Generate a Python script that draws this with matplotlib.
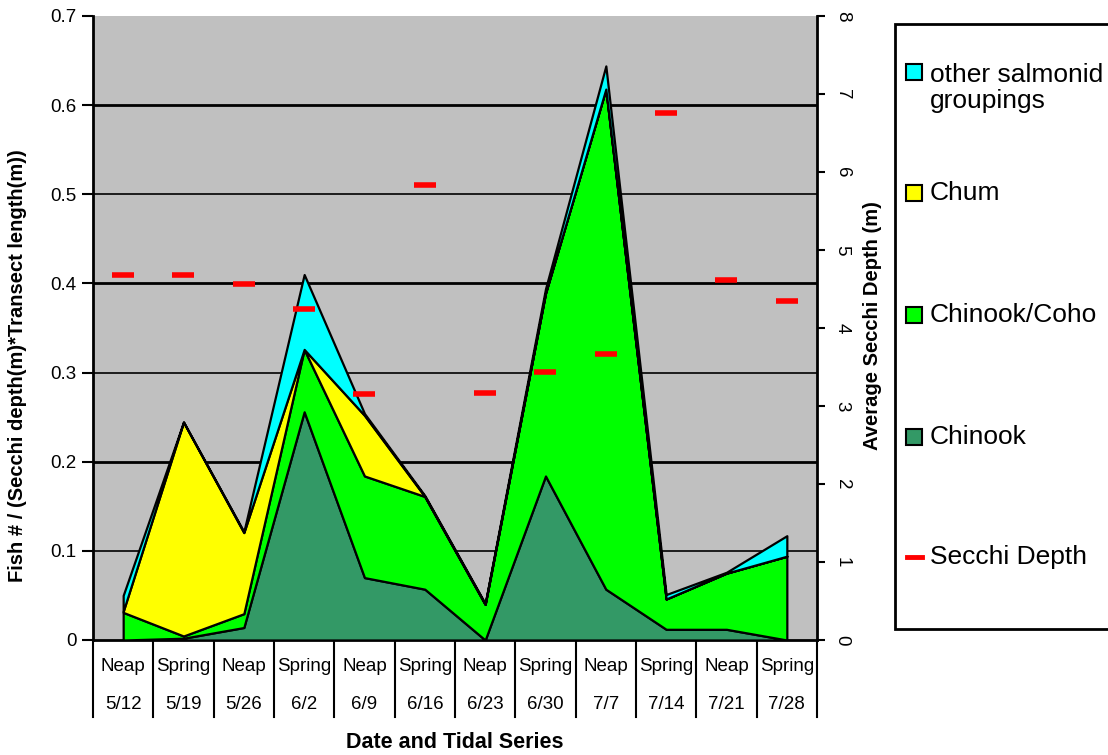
import numpy as np
import matplotlib.pyplot as plt
from matplotlib.patches import Rectangle
from matplotlib.lines import Line2D
from matplotlib.transforms import blended_transform_factory

plt.rcParams['font.family'] = ['Liberation Sans', 'DejaVu Sans']

# sampling series and dates
tides = ['Neap', 'Spring', 'Neap', 'Spring', 'Neap', 'Spring',
         'Neap', 'Spring', 'Neap', 'Spring', 'Neap', 'Spring']
dates = ['5/12', '5/19', '5/26', '6/2', '6/9', '6/16',
         '6/23', '6/30', '7/7', '7/14', '7/21', '7/28']

# fish density per group (stacked)
chinook = [0.0, 0.002, 0.014, 0.256, 0.070, 0.057, 0.0, 0.184, 0.057, 0.012, 0.012, 0.0]
chinook_coho = [0.031, 0.0025, 0.0155, 0.070, 0.114, 0.104, 0.040, 0.205, 0.561, 0.034, 0.063, 0.094]
chum = [0.001, 0.240, 0.091, 0.0, 0.068, 0.0, 0.0, 0.0, 0.0, 0.0, 0.0, 0.0]
other_salmonid = [0.018, 0.0, 0.001, 0.084, 0.002, 0.001, 0.001, 0.005, 0.026, 0.005, 0.001, 0.023]

# average secchi depth (m), right axis
secchi_depth = [4.68, 4.68, 4.56, 4.25, 3.15, 5.83, 3.17, 3.43, 3.67, 6.76, 4.61, 4.35]

left_ticks = [0, 0.1, 0.2, 0.3, 0.4, 0.5, 0.6, 0.7]
left_labels = ['0', '0.1', '0.2', '0.3', '0.4', '0.5', '0.6', '0.7']
right_ticks = [0, 1, 2, 3, 4, 5, 6, 7, 8]

W, H = 1108, 755
fig = plt.figure(figsize=(W / 100, H / 100), dpi=100)


def fx(x):
    return x / W


def fy(y):
    return 1 - y / H


ax = fig.add_axes([fx(93), fy(640), 724 / W, 624 / H])
ax.set_facecolor('#c0c0c0')

x = np.arange(len(dates))
ax.stackplot(x, chinook, chinook_coho, chum, other_salmonid,
             colors=['#339966', '#00ff00', '#ffff00', '#00ffff'],
             edgecolor='black', linewidth=1.6, zorder=3)

# horizontal gridlines, heavier every other one
for i, yv in enumerate(left_ticks[1:-1]):
    ax.axhline(yv, color='black', lw=2.0 if i % 2 else 1.2, zorder=1)

ax.set_xlim(-0.5, len(dates) - 0.5)
ax.set_ylim(0, 0.7)
ax.set_yticks(left_ticks)
ax.set_yticklabels(left_labels, fontsize=13.5)
ax.tick_params(axis='y', direction='out', length=8, width=1.5, pad=4)
ax.set_xticks([])
for side in ['left', 'bottom']:
    ax.spines[side].set_linewidth(2)
ax.spines['top'].set_visible(False)
ax.spines['right'].set_visible(False)

# two-level category labels below the axis
trans = blended_transform_factory(ax.transData, ax.transAxes)
for k in range(len(dates) + 1):
    ax.add_line(Line2D([k - 0.5, k - 0.5], [0, -0.123], transform=trans,
                       color='black', lw=1.5, clip_on=False))
for k in range(len(dates)):
    ax.text(k, -0.043, tides[k], transform=trans, ha='center', va='center', fontsize=13.5)
    ax.text(k, -0.104, dates[k], transform=trans, ha='center', va='center', fontsize=13.5)

# secchi depth on the secondary axis
ax2 = ax.twinx()
ax2.plot(x, secchi_depth, ls='none', marker='_', ms=16, mew=4, color='red', zorder=5)
ax2.set_ylim(0, 8)
ax2.set_yticks(right_ticks)
ax2.set_yticklabels([str(t) for t in right_ticks], rotation=-90, va='center', fontsize=13.5)
ax2.tick_params(axis='y', direction='out', length=6, width=1.5, pad=6)
ax2.spines['right'].set_linewidth(2)
ax2.spines['top'].set_visible(False)
ax2.spines['left'].set_visible(False)
ax2.spines['bottom'].set_visible(False)

fig.text(fx(18), fy(366), 'Fish # / (Secchi depth(m)*Transect length(m))',
         rotation=90, ha='center', va='center', fontsize=14.5, fontweight='bold')
fig.text(fx(872), fy(326), 'Average Secchi Depth (m)',
         rotation=90, ha='center', va='center', fontsize=14.5, fontweight='bold')
fig.text(fx(455), fy(742), 'Date and Tidal Series',
         ha='center', va='center', fontsize=15.5, fontweight='bold')

# legend box
fig.patches.append(Rectangle((fx(895), fy(629)), fx(1120) - fx(895), fy(24) - fy(629),
                             transform=fig.transFigure, facecolor='white',
                             edgecolor='black', lw=2, zorder=0))
legend_items = [
    ('#00ffff', 'other salmonid\ngroupings', 72, 88),
    ('#ffff00', 'Chum', 193, 193),
    ('#00ff00', 'Chinook/Coho', 315, 315),
    ('#339966', 'Chinook', 437, 437),
]
for color, label, ybox, ytext in legend_items:
    fig.patches.append(Rectangle((fx(906), fy(ybox + 8)), 16 / W, 16 / H,
                                 transform=fig.transFigure, facecolor=color,
                                 edgecolor='black', lw=1.5))
    fig.text(fx(930), fy(ytext), label, ha='left', va='center',
             fontsize=19, linespacing=1.15)
fig.lines.append(Line2D([fx(907), fx(922)], [fy(557), fy(557)],
                        transform=fig.transFigure, color='red', lw=3.5))
fig.text(fx(930), fy(557), 'Secchi Depth', ha='left', va='center', fontsize=19)

fig.savefig('out.png', dpi=100)
